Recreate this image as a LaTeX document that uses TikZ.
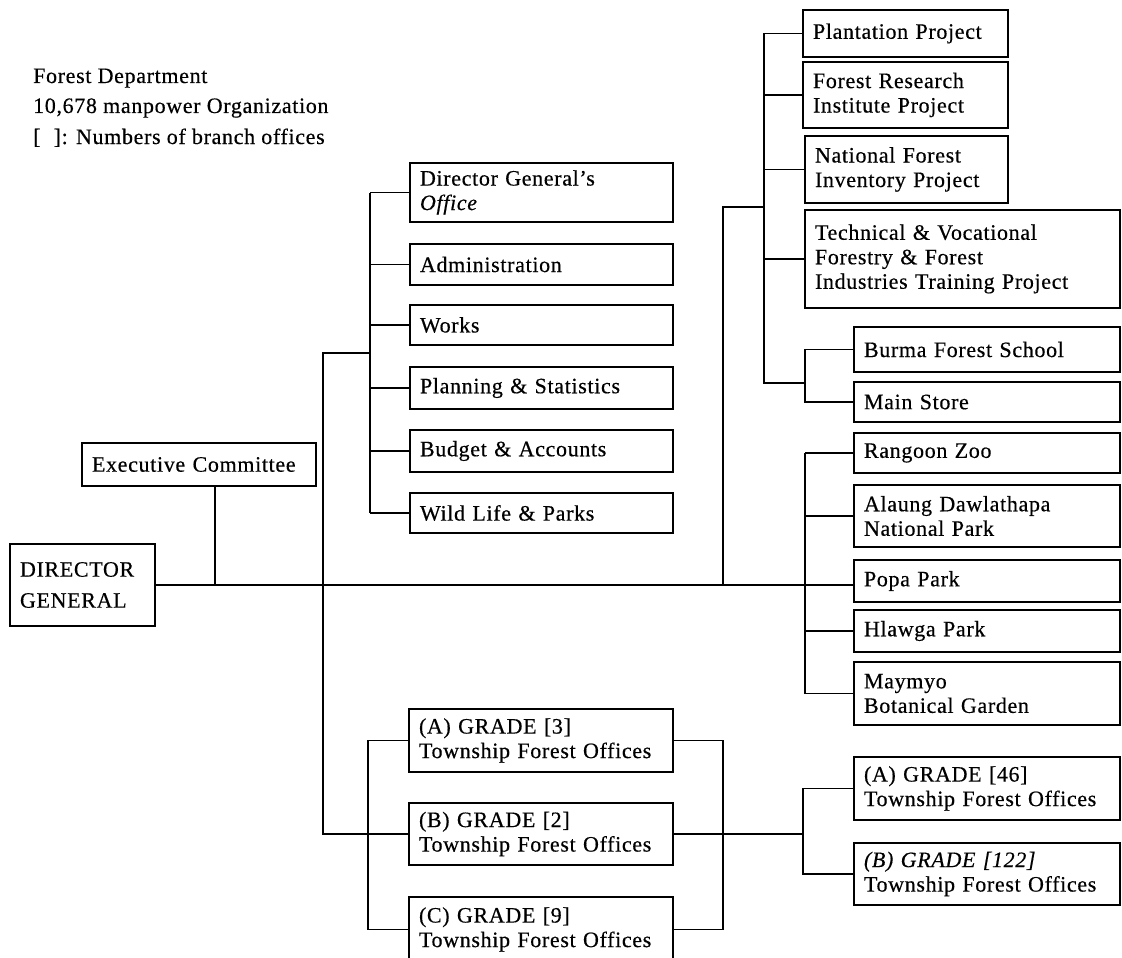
\documentclass[tikz,border=0pt]{standalone}
\usepackage{fontspec}
\setmainfont{Liberation Serif}[LetterSpace=3, FakeBold=0.4]
\newcommand\boxfont{\fontsize{22}{24.5}\selectfont}
% \orgbox{name}{left}{top}{right}{bottom}{text}
\newcommand\orgbox[6]{%
  \node[obox, minimum width={#4-#2}, minimum height={#5-#3},
        text width={#4-#2-20}] (#1) at ({(#2+#4)/2},{(#3+#5)/2}) {#6};}
\tikzset{
  obox/.style={draw, line width=1.3pt, inner xsep=10pt, inner ysep=0pt,
               align=left, font=\boxfont},
  wire/.style={line width=1.3pt},
  hdr/.style={anchor=base west, inner sep=0pt, font=\boxfont}
}
\begin{document}
\begin{tikzpicture}[x=1pt, y=-1pt]
\fill[white] (0,0) rectangle (1122,958);
\useasboundingbox (0,0) rectangle (1122,958);

% heading
\node[hdr] (h1) at (33,83)  {Forest Department};
\node[hdr] (h2) at (33,113) {10,678 manpower Organization};
\node[hdr] (h3) at (33,144) {[\hspace{0.6em}]: Numbers of branch offices};

% head of department and committee
\node[obox, minimum width=145, minimum height=82, text width=125,
      font=\fontsize{22}{31}\selectfont] (dg) at (82.5,585) {DIRECTOR\\GENERAL};
\orgbox{ec}{82}{443}{316}{486}{Executive Committee}

% headquarters offices
\orgbox{dgo}{410}{163}{673}{222}{Director General's\\\textit{Office}}
\orgbox{adm}{410}{244}{673}{285}{Administration}
\orgbox{wks}{410}{305}{673}{345}{Works}
\orgbox{pln}{410}{367}{673}{409}{Planning \& Statistics}
\orgbox{bud}{410}{430}{673}{472}{Budget \& Accounts}
\orgbox{wlp}{410}{493}{673}{533}{Wild Life \& Parks}

% projects
\orgbox{plp}{803}{10}{1008}{57}{Plantation Project}
\orgbox{fri}{803}{62}{1008}{128}{Forest Research\\Institute Project}
\orgbox{nfi}{805}{136}{1008}{203}{National Forest\\Inventory Project}
\orgbox{tvt}{805}{210}{1120}{308}{Technical \& Vocational\\Forestry \& Forest\\Industries Training Project}
\orgbox{bfs}{854}{327}{1120}{372}{Burma Forest School}
\orgbox{mst}{854}{382}{1120}{422}{Main Store}

% zoo and parks
\orgbox{rzo}{854}{433}{1120}{473}{Rangoon Zoo}
\orgbox{adn}{854}{485}{1120}{547}{Alaung Dawlathapa\\National Park}
\orgbox{pop}{854}{560}{1120}{602}{Popa Park}
\orgbox{hlw}{854}{610}{1120}{652}{Hlawga Park}
\orgbox{mbg}{854}{662}{1120}{725}{Maymyo\\Botanical Garden}

% township forest offices
\orgbox{ga}{409}{709}{673}{772}{(A) GRADE [3]\\Township Forest Offices}
\orgbox{gb}{409}{803}{673}{865}{(B) GRADE [2]\\Township Forest Offices}
\orgbox{gc}{409}{897}{673}{962}{(C) GRADE [9]\\Township Forest Offices}
\orgbox{ga46}{854}{757}{1120}{820}{(A) GRADE [46]\\Township Forest Offices}
\orgbox{gb122}{854}{843}{1120}{905}{\textit{(B) GRADE [122]}\\Township Forest Offices}

% junctions and bus positions
\coordinate (ej)  at (215,585);
\coordinate (ob)  at (370,353);
\coordinate (mvt) at (323,353);
\coordinate (pj)  at (723,585);
\coordinate (pb)  at (764,207);
\coordinate (pbb) at (764,383);
\coordinate (sb)  at (805,383);
\coordinate (pkx) at (805,0);
\coordinate (glx) at (368,0);
\coordinate (grx) at (723,0);
\coordinate (sgx) at (803,0);

% main line
\draw[wire] (dg.east) -- (dg.east -| pop.west);
\draw[wire] (ec.south -| ej) -- (ej);
\draw[wire] (ob) -- (mvt) |- (gb.west);

% headquarters offices
\foreach \b in {dgo,adm,wks,pln,bud,wlp}
  \draw[wire] (\b.west) -- (\b.west -| ob);
\draw[wire] (dgo.west -| ob) -- (wlp.west -| ob);

% projects
\draw[wire] (pj) |- (pb);
\foreach \b in {plp,fri,nfi,tvt}
  \draw[wire] (\b.west) -- (\b.west -| pb);
\draw[wire] (plp.west -| pb) -- (pbb) -- (sb);
\draw[wire] (bfs.west) -| (sb |- mst.west) -- (mst.west);

% zoo and parks
\foreach \b in {rzo,adn,hlw}
  \draw[wire] (\b.west) -- (\b.west -| pkx);
\draw[wire] (rzo.west -| pkx) -- (mbg.west -| pkx) -- (mbg.west);

% township forest offices
\draw[wire] (ga.west) -| (glx |- gc.west) -- (gc.west);
\draw[wire] (ga.east) -| (grx |- gc.east) -- (gc.east);
\draw[wire] (gb.east) -- (gb.east -| sgx);
\draw[wire] (ga46.west) -| (sgx |- gb122.west) -- (gb122.west);
\end{tikzpicture}
\end{document}
